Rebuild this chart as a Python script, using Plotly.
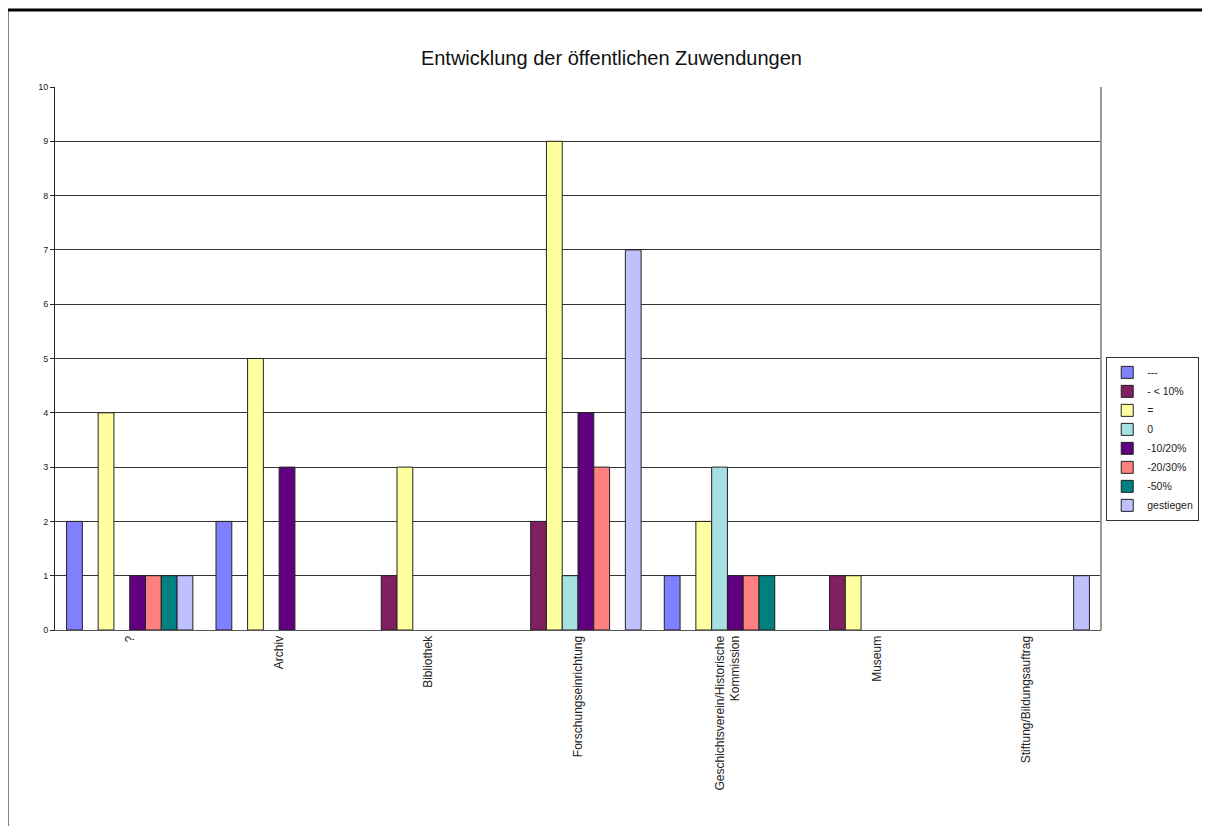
import plotly.graph_objects as go

categories = ["?", "Archiv", "Bibliothek", "Forschungseinrichtung",
              "Geschichtsverein/Historische<br>Kommission", "Museum",
              "Stiftung/Bildungsauftrag"]

series_names = ["---", "- < 10%", "=", "0", "-10/20%", "-20/30%", "-50%", "gestiegen"]

dash = [2, 2, 0, 0, 1, 0, 0]
under_10 = [0, 0, 1, 2, 0, 1, 0]
equal = [4, 5, 3, 9, 2, 1, 0]
zero = [0, 0, 0, 1, 3, 0, 0]
minus_10_20 = [1, 3, 0, 4, 1, 0, 0]
minus_20_30 = [1, 0, 0, 3, 1, 0, 0]
minus_50 = [1, 0, 0, 0, 1, 0, 0]
increased = [1, 0, 0, 7, 0, 0, 1]

series_values = [dash, under_10, equal, zero, minus_10_20, minus_20_30, minus_50, increased]
colors = ["#8080FF", "#802060", "#FFFFA0", "#A6E0E0", "#600080", "#FF8080", "#008080", "#C0C0FF"]

fig = go.Figure()
for name, vals, col in zip(series_names, series_values, colors):
    # empty bars are not drawn (otherwise the outline shows as a line on the axis)
    shown = [v if v else None for v in vals]
    fig.add_trace(go.Bar(
        x=categories,
        y=shown,
        name=name,
        marker=dict(color=col, line=dict(color="#222222", width=1)),
    ))

# outer frame, as in the scanned document
fig.add_shape(type="rect", xref="paper", yref="paper",
              x0=-0.0459, x1=1.12, y0=-0.40, y1=1.1418,
              line=dict(color="black", width=3), fillcolor="rgba(0,0,0,0)")
# grey right border of the plot area
fig.add_shape(type="line", xref="paper", yref="paper", x0=1, x1=1, y0=0, y1=1,
              line=dict(color="#999999", width=2))

fig.update_layout(
    width=1202,
    height=818,
    barmode="group",
    bargap=0.155,
    bargroupgap=0,
    paper_bgcolor="white",
    plot_bgcolor="white",
    font=dict(family="Liberation Sans, Arial", color="#222222"),
    title=dict(text="Entwicklung der öffentlichen Zuwendungen",
               x=0.502, xref="container", y=1 - 50 / 818, yref="container",
               xanchor="center", yanchor="middle",
               font=dict(size=20, color="#111111")),
    margin=dict(l=47, r=109, t=79, b=196, autoexpand=False),
    showlegend=True,
    legend=dict(x=1.005, y=0.503, xanchor="left", yanchor="top",
                bordercolor="#333333", borderwidth=1, bgcolor="white",
                font=dict(size=10.5), tracegroupgap=0, itemwidth=30),
    xaxis=dict(tickangle=-90, tickfont=dict(size=12), showgrid=False,
               showline=True, linecolor="#555555", linewidth=1,
               ticks="", mirror=False),
    yaxis=dict(range=[0, 10], dtick=1, tickfont=dict(size=9),
               showgrid=True, gridcolor="#333333", gridwidth=1,
               showline=True, linecolor="#222222", linewidth=1,
               ticks="outside", ticklen=4, tickcolor="#222222",
               zeroline=False),
)

fig.write_html("out.html")
